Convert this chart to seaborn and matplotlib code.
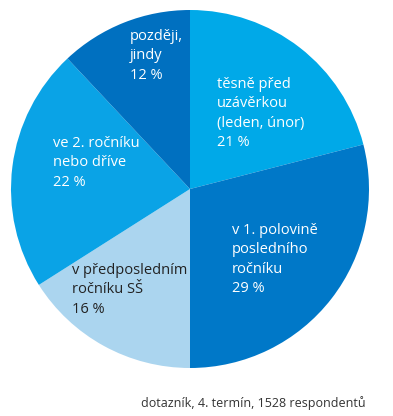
import matplotlib
matplotlib.use('Agg')
import matplotlib.pyplot as plt
import seaborn as sns

sns.set_style('white')
plt.rcParams['font.family'] = ['Open Sans', 'DejaVu Sans']

# data (clockwise from top)
categories = ['těsně před\nuzávěrkou\n(leden, únor)', 'v 1. polovině\nposledního\nročníku',
              'v předposledním\nročníku SŠ', 've 2. ročníku\nnebo dříve', 'později,\njindy']
values = [21, 29, 16, 22, 12]
colors = ['#00a9e8', '#0078c8', '#abd5ef', '#0aa3e6', '#0070c0']
text_colors = ['white', 'white', '#222222', 'white', 'white']
# label top-left corners in pixels
label_px = [(217, 77), (232, 223), (72, 263), (53, 136), (130, 29)]

W, H = 393, 416
fig = plt.figure(figsize=(W / 100, H / 100), dpi=100)
ax = fig.add_axes([11 / W, (H - 368) / H, 358 / W, 358 / H])

ax.pie(values, colors=colors, startangle=90, counterclock=False,
       wedgeprops={'linewidth': 0})
ax.set_xlim(-1, 1)
ax.set_ylim(-1, 1)
ax.set_aspect('equal')

for cat, val, tc, (px, py) in zip(categories, values, text_colors, label_px):
    fig.text(px / W, 1 - py / H, f'{cat}\n{val} %', color=tc, fontsize=10.5,
             ha='left', va='top', linespacing=1.4)

fig.text(366 / W, 1 - 403 / H, 'dotazník, 4. termín, 1528 respondentů',
         ha='right', va='center', fontsize=9, color='#333333')

fig.savefig('out.png', dpi=100)
